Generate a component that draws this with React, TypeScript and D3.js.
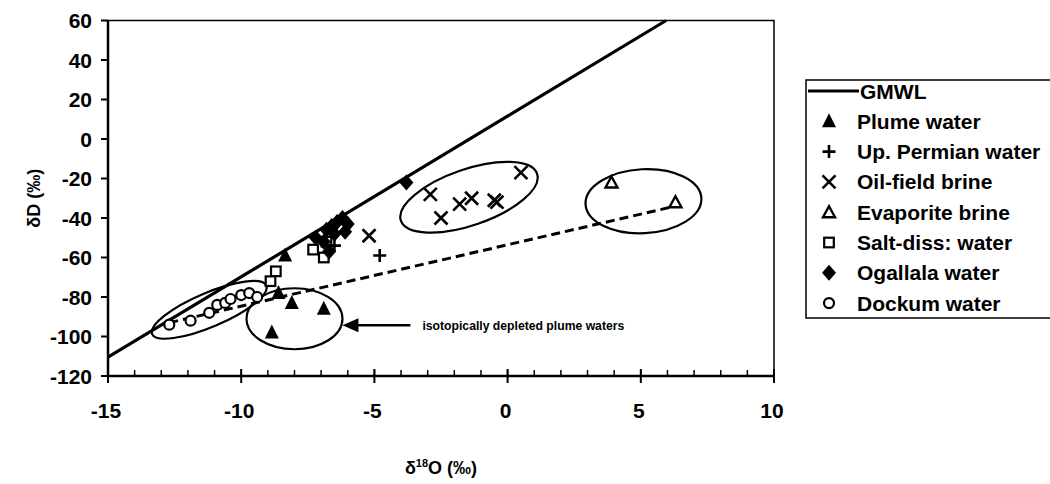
import React from "react";
import * as d3 from "d3";

// ---- data (δ18O ‰, δD ‰) ----
const plumeWater: [number, number][] = [
  [-8.6, -78], [-8.1, -83], [-6.9, -86], [-8.85, -98], [-8.35, -59],
];
const upPermianWater: [number, number][] = [
  [-4.8, -59], [-6.5, -54],
];
const oilFieldBrine: [number, number][] = [
  [-5.2, -49], [-2.9, -28], [-2.5, -40], [-1.8, -33], [-1.35, -30],
  [-0.5, -31], [-0.4, -32], [0.5, -17],
];
const evaporiteBrine: [number, number][] = [
  [3.9, -22], [6.3, -32],
];
const saltDissWater: [number, number][] = [
  [-7.3, -56], [-6.8, -52], [-8.7, -67], [-8.9, -72], [-6.9, -60],
];
const ogallalaWater: [number, number][] = [
  [-3.8, -22], [-6.4, -42], [-6.8, -46], [-6.1, -47], [-6.6, -44],
  [-7.2, -50], [-6.7, -57], [-6.2, -40], [-6.0, -43], [-6.5, -48], [-6.9, -52],
];
const dockumWater: [number, number][] = [
  [-12.7, -94], [-11.9, -92], [-11.2, -88], [-10.9, -84], [-10.6, -83],
  [-10.4, -81], [-10.0, -79], [-9.7, -78], [-9.4, -80],
];
const gmwl: [number, number][] = [[-15, -110.5], [5.95, 60]];
const mixingLine: [number, number][] = [[-12.7, -93], [6.3, -34]];

const xTicks = [-15, -10, -5, 0, 5, 10];
const xMinorTicks = d3.range(-15, 11, 1);
const yTicks = [60, 40, 20, 0, -20, -40, -60, -80, -100, -120];

// ellipse annotations: center in data units
const ellipseCenters: [number, number][] = [
  [-11.2, -86.5], [-8.0, -91], [-1.45, -29.5], [5.1, -31.5],
];
const arrowTip: [number, number] = [-6.2, -94.3];
const annotationText = "isotopically depleted plume waters";

const legendLabels = [
  "GMWL", "Plume water", "Up. Permian water", "Oil-field brine",
  "Evaporite brine", "Salt-diss: water", "Ogallala water", "Dockum water",
];

type Kind = "triFill" | "plus" | "x" | "triOpen" | "square" | "diamond" | "circle";

function Marker({ kind, cx, cy }: { kind: Kind; cx: number; cy: number }) {
  const s = 7;
  switch (kind) {
    case "triFill":
      return <path d={`M${cx},${cy - s - 1}L${cx + s},${cy + s - 1}L${cx - s},${cy + s - 1}Z`} fill="#000" />;
    case "triOpen":
      return <path d={`M${cx},${cy - 6}L${cx + 6},${cy + 5}L${cx - 6},${cy + 5}Z`} fill="#fff" stroke="#000" strokeWidth={2.4} />;
    case "plus":
      return <path d={`M${cx - 6.5},${cy}H${cx + 6.5}M${cx},${cy - 6.5}V${cy + 6.5}`} stroke="#000" strokeWidth={2.6} />;
    case "x":
      return <path d={`M${cx - 6.5},${cy - 6.5}L${cx + 6.5},${cy + 6.5}M${cx - 6.5},${cy + 6.5}L${cx + 6.5},${cy - 6.5}`} stroke="#000" strokeWidth={2.6} />;
    case "square":
      return <rect x={cx - 4.8} y={cy - 4.8} width={9.6} height={9.6} fill="#fff" stroke="#000" strokeWidth={2.2} />;
    case "diamond":
      return <path d={`M${cx},${cy - 8}L${cx + 7},${cy}L${cx},${cy + 8}L${cx - 7},${cy}Z`} fill="#000" />;
    case "circle":
      return <circle cx={cx} cy={cy} r={5} fill="#fff" stroke="#000" strokeWidth={2.2} />;
  }
  return null;
}

export default function App() {
  const W = 1050, H = 484;
  const x = d3.scaleLinear().domain([-15, 10]).range([108, 774]);
  const y = d3.scaleLinear().domain([-120, 60]).range([376, 20.5]);
  const line = d3.line<[number, number]>().x((d) => x(d[0])).y((d) => y(d[1]));

  const series: { kind: Kind; data: [number, number][] }[] = [
    { kind: "square", data: saltDissWater },
    { kind: "circle", data: dockumWater },
    { kind: "triOpen", data: evaporiteBrine },
    { kind: "x", data: oilFieldBrine },
    { kind: "plus", data: upPermianWater },
    { kind: "diamond", data: ogallalaWater },
    { kind: "triFill", data: plumeWater },
  ];
  const ellipseShapes = [
    { rx: 62, ry: 17, rot: -23 },
    { rx: 48, ry: 30.5, rot: 0 },
    { rx: 72, ry: 28, rot: -19 },
    { rx: 58, ry: 32, rot: -3 },
  ];
  const legendKinds: (Kind | null)[] = [null, "triFill", "plus", "x", "triOpen", "square", "diamond", "circle"];
  const font = "'Liberation Sans', Arial, sans-serif";
  const x0 = x(-15), x1 = x(10), yTop = y(60), yBot = y(-120);
  const tip = [x(arrowTip[0]), y(arrowTip[1])];

  return (
    <svg width={W} height={H} style={{ position: "absolute", left: 0, top: 0, background: "#fff" }} fontFamily={font}>
      <rect width={W} height={H} fill="#fff" />
      {/* frame */}
      <rect x={x0} y={yTop} width={x1 - x0} height={yBot - yTop} fill="none" stroke="#000" strokeWidth={1.5} />
      {/* y axis */}
      <line x1={x0} x2={x0} y1={yTop} y2={yBot} stroke="#000" strokeWidth={2.5} />
      {yTicks.map((t) => (
        <g key={t}>
          <line x1={x0 - 7} x2={x0} y1={y(t)} y2={y(t)} stroke="#000" strokeWidth={2} />
          <text x={x0 - 16} y={y(t)} dy="0.36em" textAnchor="end" fontSize={21} fontWeight="bold">{t}</text>
        </g>
      ))}
      {/* x axis */}
      <line x1={x0} x2={x1} y1={yBot} y2={yBot} stroke="#000" strokeWidth={2.5} />
      {xMinorTicks.map((t) => (
        <line key={"m" + t} x1={x(t)} x2={x(t)} y1={yBot} y2={yBot - 6} stroke="#000" strokeWidth={1.5} />
      ))}
      {xTicks.map((t) => (
        <g key={t}>
          <line x1={x(t)} x2={x(t)} y1={yBot - 7} y2={yBot + 7} stroke="#000" strokeWidth={2} />
          <text x={x(t) - 2} y={410} dy="0.36em" textAnchor="middle" fontSize={21} fontWeight="bold">{t}</text>
        </g>
      ))}
      {/* axis titles */}
      <text transform={`translate(34,${(yTop + yBot) / 2}) rotate(-90)`} textAnchor="middle" dy="0.36em" fontSize={18} fontWeight="bold">δD (‰)</text>
      <text x={(x0 + x1) / 2} y={474} textAnchor="middle" fontSize={18} fontWeight="bold">
        δ<tspan fontSize={11} dy={-7}>18</tspan><tspan dy={7}>O (‰)</tspan>
      </text>
      {/* GMWL and mixing line */}
      <path d={line(gmwl) || ""} stroke="#000" strokeWidth={3.2} fill="none" />
      <path d={line(mixingLine) || ""} stroke="#000" strokeWidth={3} strokeDasharray="9,5" fill="none" />
      {/* ellipses */}
      {ellipseCenters.map((c, i) => (
        <ellipse key={i} cx={0} cy={0} rx={ellipseShapes[i].rx} ry={ellipseShapes[i].ry}
          transform={`translate(${x(c[0])},${y(c[1])}) rotate(${ellipseShapes[i].rot})`}
          fill="none" stroke="#000" strokeWidth={2.2} />
      ))}
      {/* markers */}
      {series.map((s, i) => (
        <g key={i}>
          {s.data.map((d, j) => <Marker key={j} kind={s.kind} cx={x(d[0])} cy={y(d[1])} />)}
        </g>
      ))}
      {/* annotation arrow */}
      <line x1={tip[0] + 12} x2={tip[0] + 68} y1={tip[1]} y2={tip[1]} stroke="#000" strokeWidth={2.5} />
      <path d={`M${tip[0]},${tip[1]}L${tip[0] + 16},${tip[1] - 7}L${tip[0] + 16},${tip[1] + 7}Z`} fill="#000" />
      <text x={tip[0] + 80} y={tip[1]} dy="0.36em" fontSize={12.2} fontWeight="bold">{annotationText}</text>
      {/* legend */}
      <g>
        <path d={`M1052,80H806V318H1052`} fill="none" stroke="#000" strokeWidth={1.5} />
        {legendLabels.map((lab, i) => {
          const ly = 91 + i * 30.3;
          const k = legendKinds[i];
          return (
            <g key={lab}>
              {k === null ? (
                <line x1={808} x2={859} y1={ly} y2={ly} stroke="#000" strokeWidth={3} />
              ) : (
                <Marker kind={k} cx={829} cy={ly} />
              )}
              <text x={k === null ? 860 : 857} y={ly} dy="0.36em" fontSize={21} fontWeight="bold">{lab}</text>
            </g>
          );
        })}
      </g>
    </svg>
  );
}
